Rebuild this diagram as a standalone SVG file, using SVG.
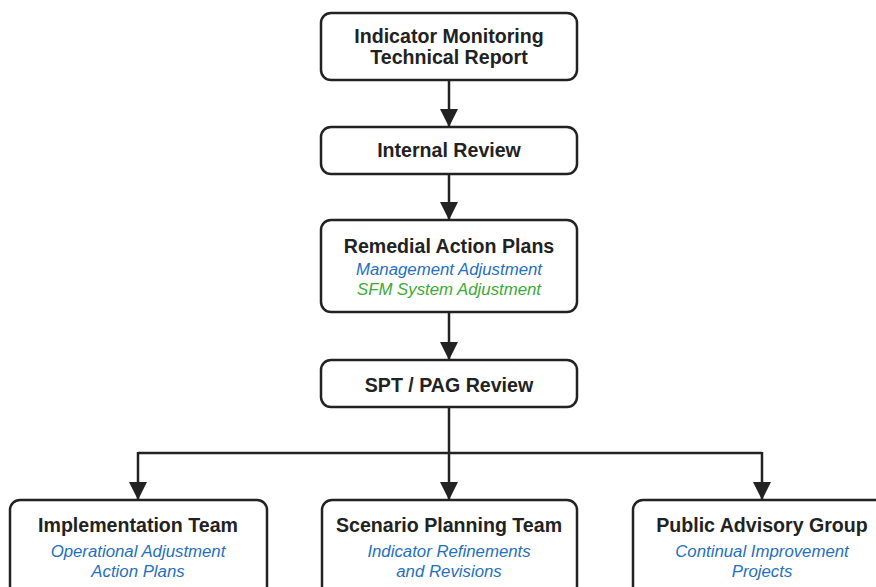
<svg xmlns="http://www.w3.org/2000/svg" width="876" height="587" viewBox="0 0 876 587">
<style>
.box{fill:#fff;stroke:#222;stroke-width:2.5}
.t{font-family:"Liberation Sans",Arial,sans-serif;font-weight:bold;font-size:19.6px;fill:#222;text-anchor:middle}
.s{font-family:"Liberation Sans",Arial,sans-serif;font-style:italic;font-size:16.8px;text-anchor:middle}
.b{fill:#1f6fbf}
.g{fill:#3aaa35}
.c{fill:none;stroke:#222;stroke-width:2.5}
</style>
<defs>
<marker id="ah" markerWidth="18" markerHeight="18" refX="17" refY="9" orient="auto" markerUnits="userSpaceOnUse">
<path d="M0,0 L18,9 L0,18 Z" fill="#222"/>
</marker>
</defs>
<rect width="876" height="587" fill="#fff"/>
<g id="connectors">
<path class="c" d="M449,80 V126" marker-end="url(#ah)"/>
<path class="c" d="M449,174 V219" marker-end="url(#ah)"/>
<path class="c" d="M449,312 V359" marker-end="url(#ah)"/>
<path class="c" d="M449,407 V499" marker-end="url(#ah)"/>
<path class="c" d="M138,453 H762"/>
<path class="c" d="M138,452 V499" marker-end="url(#ah)"/>
<path class="c" d="M762,452 V499" marker-end="url(#ah)"/>
</g>
<g id="n1">
<rect class="box" x="321" y="13" width="256" height="67" rx="10"/>
<text class="t" x="449" y="43">Indicator Monitoring</text>
<text class="t" x="449" y="64">Technical Report</text>
</g>
<g id="n2">
<rect class="box" x="321" y="127" width="256" height="47" rx="10"/>
<text class="t" x="449" y="157">Internal Review</text>
</g>
<g id="n3">
<rect class="box" x="321" y="220" width="256" height="92" rx="10"/>
<text class="t" x="449" y="253">Remedial Action Plans</text>
<text class="s b" x="449" y="275">Management Adjustment</text>
<text class="s g" x="449" y="295">SFM System Adjustment</text>
</g>
<g id="n4">
<rect class="box" x="321" y="360" width="256" height="47" rx="10"/>
<text class="t" x="449" y="392">SPT / PAG Review</text>
</g>
<g id="n5">
<rect class="box" x="10" y="500" width="257" height="110" rx="10"/>
<text class="t" x="138" y="532">Implementation Team</text>
<text class="s b" x="138" y="557">Operational Adjustment</text>
<text class="s b" x="138" y="577">Action Plans</text>
</g>
<g id="n6">
<rect class="box" x="322" y="500" width="255" height="110" rx="10"/>
<text class="t" x="449" y="532">Scenario Planning Team</text>
<text class="s b" x="449" y="557">Indicator Refinements</text>
<text class="s b" x="449" y="577">and Revisions</text>
</g>
<g id="n7">
<rect class="box" x="633" y="500" width="258" height="110" rx="10"/>
<text class="t" x="762" y="532">Public Advisory Group</text>
<text class="s b" x="762" y="557">Continual Improvement</text>
<text class="s b" x="762" y="577">Projects</text>
</g>
</svg>
